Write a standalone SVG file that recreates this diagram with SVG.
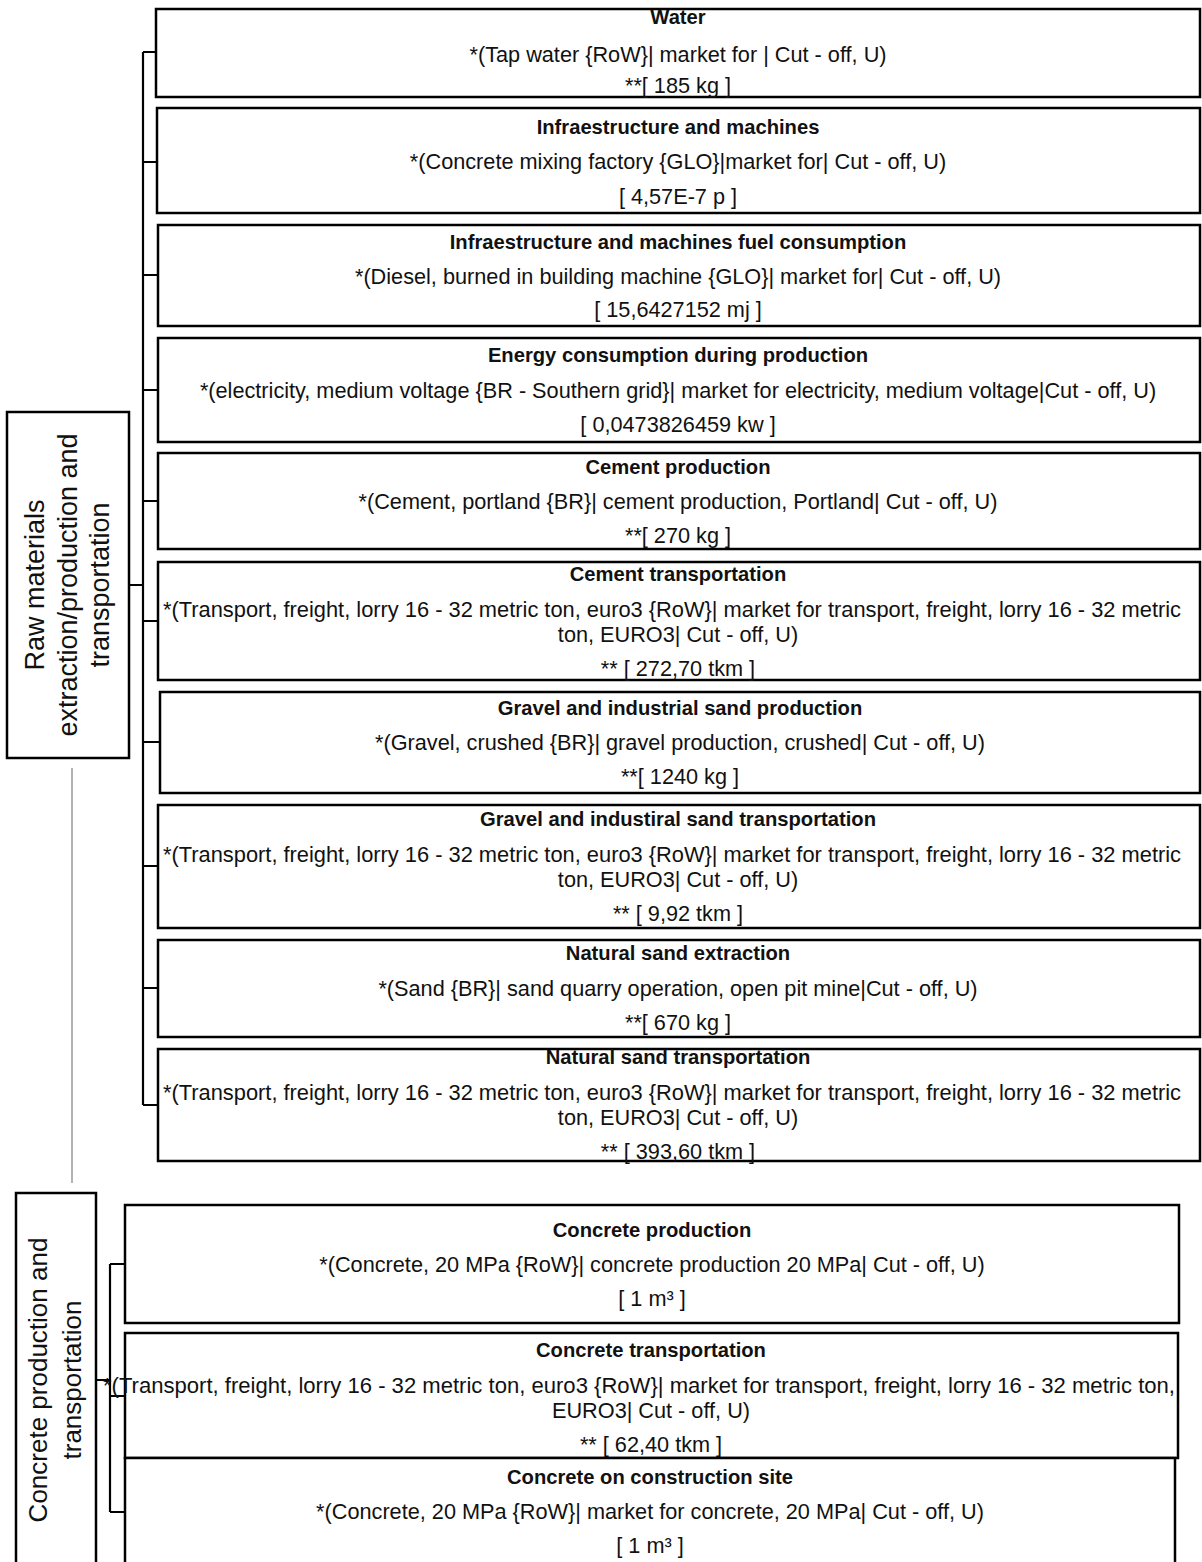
<svg xmlns="http://www.w3.org/2000/svg" width="1202" height="1562" viewBox="0 0 1202 1562">
<style>
.box{fill:#fff;stroke:#000;stroke-width:2.5}
.lbl{fill:#fff;stroke:#000;stroke-width:2.5}
.br{fill:none;stroke:#000;stroke-width:2.2}
.thin{fill:none;stroke:#666;stroke-width:1}
text{font-family:"Liberation Sans",Arial,sans-serif;font-size:21.7px;fill:#111;text-anchor:middle}
.t{font-weight:bold;font-size:20.2px}
.big{font-size:27px}
.big2{font-size:26px}
</style>
<g id="connectors">
<path class="br" d="M143,52 V1105 M143,52 H157 M143,162 H158 M143,275 H158 M143,390 H158 M143,501 H158 M143,621 H158 M143,742 H160 M143,866 H158 M143,988 H158 M143,1105 H158 M129,585 H143"/>
<path class="br" d="M110,1264 V1512 M110,1264 H125 M110,1396 H125 M110,1512 H125 M96,1380 H110"/>
<path class="thin" d="M72,768 V1183"/>
</g>
<g id="raw-label">
<rect class="lbl" x="7" y="412" width="122" height="346"/>
<g transform="translate(68,585) rotate(-90)">
<text class="big" x="0" y="-24">Raw materials</text>
<text class="big" x="0" y="9">extraction/production and</text>
<text class="big" x="0" y="41">transportation</text>
</g>
</g>
<g id="concrete-label">
<rect class="lbl" x="16" y="1193" width="80" height="420"/>
<g transform="translate(56,1380) rotate(-90)">
<text class="big2" x="0" y="-9">Concrete production and</text>
<text class="big2" x="0" y="25">transportation</text>
</g>
</g>
<g id="water">
<rect class="box" x="156" y="9" width="1044" height="88"/>
<text class="t" x="678" y="24">Water</text>
<text x="678" y="62">*(Tap water {RoW}| market for | Cut - off, U)</text>
<text x="678" y="93">**[ 185 kg ]</text>
</g>
<g id="infra">
<rect class="box" x="157" y="108" width="1043" height="105"/>
<text class="t" x="678" y="134">Infraestructure and machines</text>
<text x="678" y="169">*(Concrete mixing factory {GLO}|market for| Cut - off, U)</text>
<text x="678" y="204">[ 4,57E-7 p ]</text>
</g>
<g id="fuel">
<rect class="box" x="158" y="225" width="1042" height="101"/>
<text class="t" x="678" y="249">Infraestructure and machines fuel consumption</text>
<text x="678" y="284">*(Diesel, burned in building machine {GLO}| market for| Cut - off, U)</text>
<text x="678" y="317">[ 15,6427152 mj ]</text>
</g>
<g id="energy">
<rect class="box" x="158" y="338" width="1042" height="104"/>
<text class="t" x="678" y="362">Energy consumption during production</text>
<text x="678" y="398">*(electricity, medium voltage {BR - Southern grid}| market for electricity, medium voltage|Cut - off, U)</text>
<text x="678" y="432">[ 0,0473826459 kw ]</text>
</g>
<g id="cement">
<rect class="box" x="158" y="453" width="1042" height="96"/>
<text class="t" x="678" y="474">Cement production</text>
<text x="678" y="509">*(Cement, portland {BR}| cement production, Portland| Cut - off, U)</text>
<text x="678" y="543">**[ 270 kg ]</text>
</g>
<g id="cement-transport">
<rect class="box" x="158" y="562" width="1042" height="118"/>
<text class="t" x="678" y="581">Cement transportation</text>
<text x="672" y="617" textLength="1018" lengthAdjust="spacingAndGlyphs">*(Transport, freight, lorry 16 - 32 metric ton, euro3 {RoW}| market for transport, freight, lorry 16 - 32 metric</text>
<text x="678" y="642">ton, EURO3| Cut - off, U)</text>
<text x="678" y="676">** [ 272,70 tkm ]</text>
</g>
<g id="gravel">
<rect class="box" x="160" y="692" width="1040" height="101"/>
<text class="t" x="680" y="715">Gravel and industrial sand production</text>
<text x="680" y="750">*(Gravel, crushed {BR}| gravel production, crushed| Cut - off, U)</text>
<text x="680" y="784">**[ 1240 kg ]</text>
</g>
<g id="gravel-transport">
<rect class="box" x="158" y="805" width="1042" height="123"/>
<text class="t" x="678" y="826">Gravel and industiral sand transportation</text>
<text x="672" y="862" textLength="1018" lengthAdjust="spacingAndGlyphs">*(Transport, freight, lorry 16 - 32 metric ton, euro3 {RoW}| market for transport, freight, lorry 16 - 32 metric</text>
<text x="678" y="887">ton, EURO3| Cut - off, U)</text>
<text x="678" y="921">** [ 9,92 tkm ]</text>
</g>
<g id="sand">
<rect class="box" x="158" y="940" width="1042" height="97"/>
<text class="t" x="678" y="960">Natural sand extraction</text>
<text x="678" y="996">*(Sand {BR}| sand quarry operation, open pit mine|Cut - off, U)</text>
<text x="678" y="1030">**[ 670 kg ]</text>
</g>
<g id="sand-transport">
<rect class="box" x="158" y="1049" width="1042" height="112"/>
<text class="t" x="678" y="1064">Natural sand transportation</text>
<text x="672" y="1100" textLength="1018" lengthAdjust="spacingAndGlyphs">*(Transport, freight, lorry 16 - 32 metric ton, euro3 {RoW}| market for transport, freight, lorry 16 - 32 metric</text>
<text x="678" y="1125">ton, EURO3| Cut - off, U)</text>
<text x="678" y="1159">** [ 393,60 tkm ]</text>
</g>
<g id="concrete-production">
<rect class="box" x="125" y="1205" width="1054" height="118"/>
<text class="t" x="652" y="1237">Concrete production</text>
<text x="652" y="1272">*(Concrete, 20 MPa {RoW}| concrete production 20 MPa| Cut - off, U)</text>
<text x="652" y="1306">[ 1 m³ ]</text>
</g>
<g id="concrete-transport">
<rect class="box" x="125" y="1333" width="1053" height="125"/>
<text class="t" x="651" y="1357">Concrete transportation</text>
<text x="639" y="1393" textLength="1072" lengthAdjust="spacingAndGlyphs">*(Transport, freight, lorry 16 - 32 metric ton, euro3 {RoW}| market for transport, freight, lorry 16 - 32 metric ton,</text>
<text x="651" y="1418">EURO3| Cut - off, U)</text>
<text x="651" y="1452">** [ 62,40 tkm ]</text>
</g>
<g id="concrete-site">
<path class="box" d="M125,1600 V1458 H1175 V1600"/>
<text class="t" x="650" y="1484">Concrete on construction site</text>
<text x="650" y="1519">*(Concrete, 20 MPa {RoW}| market for concrete, 20 MPa| Cut - off, U)</text>
<text x="650" y="1553">[ 1 m³ ]</text>
</g>
</svg>
